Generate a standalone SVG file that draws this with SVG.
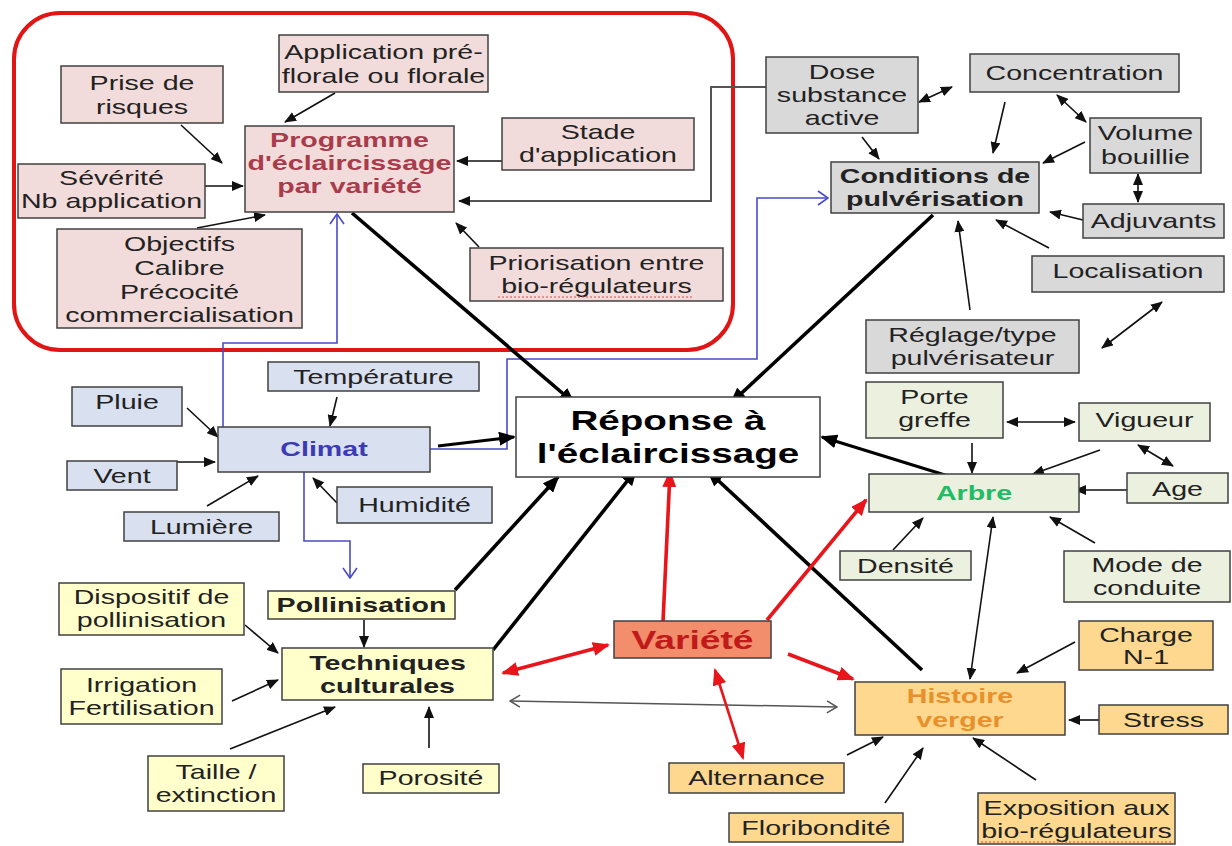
<svg xmlns="http://www.w3.org/2000/svg" width="1232" height="846" viewBox="0 0 1232 846">
<style>
  .box{stroke:#404040;stroke-width:1.5}
  .pk{fill:#f2dcdb}.gy{fill:#d9d9d9}.bl{fill:#d9e0ef}.gr{fill:#ebf1de}.ye{fill:#ffffcc}.or{fill:#fdd88e}
  text{font-family:"Liberation Sans",Arial,sans-serif;font-size:20px;fill:#222;text-anchor:middle}
  .b{font-weight:bold}
  .thin{fill:none;stroke:#111;stroke-width:1.6;marker-end:url(#ah)}
  .dbl{marker-start:url(#ah)}
  .thick{fill:none;stroke:#000;stroke-width:3.6;marker-end:url(#ahK)}
  .red{fill:none;stroke:#e8161b;stroke-width:3.6;marker-end:url(#ahR)}
  .redd{marker-start:url(#ahR)}
  .blue{fill:none;stroke:#4a4ac8;stroke-width:1.6;marker-end:url(#ahB)}
  .spell{fill:none;stroke:#e04848;stroke-width:1;stroke-dasharray:2 2}
</style>
<defs>
  <marker id="ah" viewBox="0 0 12 10" refX="11" refY="5" markerWidth="12" markerHeight="10" markerUnits="userSpaceOnUse" orient="auto-start-reverse"><path d="M0,0 L12,5 L0,10 z" fill="#111"/></marker>
  <marker id="ahK" viewBox="0 0 17 14" refX="15" refY="7" markerWidth="17" markerHeight="14" markerUnits="userSpaceOnUse" orient="auto-start-reverse"><path d="M0,0 L17,7 L0,14 z" fill="#000"/></marker>
  <marker id="ahR" viewBox="0 0 17 14" refX="15" refY="7" markerWidth="17" markerHeight="14" markerUnits="userSpaceOnUse" orient="auto-start-reverse"><path d="M0,0 L17,7 L0,14 z" fill="#e8161b"/></marker>
  <marker id="ahB" viewBox="0 0 12 16" refX="11" refY="8" markerWidth="12" markerHeight="16" markerUnits="userSpaceOnUse" orient="auto-start-reverse"><path d="M1,1 L11,8 L1,15" fill="none" stroke="#4a4ac8" stroke-width="1.6"/></marker>
  <marker id="ahG" viewBox="0 0 12 14" refX="11" refY="7" markerWidth="12" markerHeight="14" markerUnits="userSpaceOnUse" orient="auto-start-reverse"><path d="M1,1 L11,7 L1,13" fill="none" stroke="#555" stroke-width="1.5"/></marker>
</defs>
<rect width="1232" height="846" fill="#ffffff"/>
<rect id="frame" x="14" y="13" width="719" height="337" rx="46" fill="none" stroke="#e01515" stroke-width="4"/>

<g id="connectors">
  <line class="thin" x1="335" y1="93" x2="285" y2="122"/>
  <line class="thin" x1="181" y1="125" x2="222" y2="163"/>
  <line class="thin" x1="205" y1="186" x2="243" y2="186"/>
  <line class="thin" x1="197" y1="228" x2="265" y2="215"/>
  <line class="thin" x1="502" y1="161" x2="457" y2="161"/>
  <polyline class="thin" style="stroke:#555;stroke-width:2" points="766,87 711,87 711,201 459,201"/>
  <line class="thin" x1="479" y1="247" x2="456" y2="223"/>
  <line class="thin dbl" x1="919" y1="102" x2="952" y2="87"/>
  <line class="thin" x1="862" y1="137" x2="879" y2="159"/>
  <line class="thin" x1="1005" y1="102" x2="993" y2="153"/>
  <line class="thin dbl" x1="1057" y1="95" x2="1086" y2="122"/>
  <line class="thin" x1="1085" y1="142" x2="1043" y2="163"/>
  <line class="thin dbl" x1="1138" y1="174" x2="1138" y2="202"/>
  <line class="thin" x1="1083" y1="220" x2="1050" y2="212"/>
  <line class="thin" x1="1049" y1="248" x2="996" y2="220"/>
  <line class="thin" x1="970" y1="310" x2="958" y2="221"/>
  <line class="thin dbl" x1="1162" y1="302" x2="1102" y2="348"/>
  <line class="thin" x1="337" y1="397" x2="330" y2="426"/>
  <line class="thin" x1="187" y1="408" x2="218" y2="437"/>
  <line class="thin" x1="177" y1="462" x2="215" y2="462"/>
  <line class="thin" x1="207" y1="506" x2="258" y2="476"/>
  <line class="thin" x1="337" y1="503" x2="313" y2="478"/>
  <line class="thin dbl" x1="1007" y1="422" x2="1075" y2="422"/>
  <line class="thin" x1="972" y1="443" x2="972" y2="473"/>
  <line class="thin" x1="1100" y1="450" x2="1033" y2="474"/>
  <line class="thin dbl" x1="1138" y1="445" x2="1173" y2="466"/>
  <line class="thin" x1="1127" y1="490" x2="1075" y2="490"/>
  <line class="thin" x1="893" y1="550" x2="923" y2="518"/>
  <line class="thin" x1="1095" y1="543" x2="1050" y2="517"/>
  <line class="thin dbl" x1="993" y1="517" x2="970" y2="679"/>
  <line class="thin" x1="364" y1="620" x2="364" y2="647"/>
  <line class="thin" x1="245" y1="625" x2="278" y2="653"/>
  <line class="thin" x1="232" y1="701" x2="278" y2="680"/>
  <line class="thin" x1="230" y1="749" x2="335" y2="707"/>
  <line class="thin" x1="429" y1="748" x2="429" y2="707"/>
  <line class="thin" x1="1075" y1="642" x2="1017" y2="673"/>
  <line class="thin" x1="1099" y1="720" x2="1069" y2="720"/>
  <line class="thin" x1="1036" y1="780" x2="973" y2="738"/>
  <line class="thin" x1="885" y1="803" x2="923" y2="748"/>
  <line class="thin" x1="847" y1="755" x2="883" y2="737"/>
  <line fill="none" stroke="#555" stroke-width="1.5" marker-start="url(#ahG)" marker-end="url(#ahG)" x1="510" y1="701" x2="837" y2="707"/>

  <polyline class="blue" points="430,449 507,449 507,359 757,359 757,198 828,198"/>
  <polyline class="blue" points="223,427 223,343 337,343 337,214"/>
  <polyline class="blue" points="304,472 304,541 350,541 350,578"/>

  <line class="thick" x1="352" y1="213" x2="574" y2="403"/>
  <line class="thick" x1="933" y1="215" x2="731" y2="403"/>
  <line class="thick" style="stroke-width:3" x1="438" y1="446" x2="514" y2="437"/>
  <line class="thick" x1="455" y1="590" x2="558" y2="477"/>
  <line class="thick" x1="493" y1="650" x2="636" y2="470"/>
  <line class="thick" x1="922" y1="670" x2="708" y2="471"/>
  <line class="thick" style="stroke-width:3" x1="945" y1="475" x2="822" y2="437"/>

  <line class="red" x1="663" y1="622" x2="670" y2="472"/>
  <line class="red" x1="767" y1="620" x2="866" y2="500"/>
  <line class="red" x1="788" y1="654" x2="853" y2="679"/>
  <line class="red redd" x1="608" y1="645" x2="503" y2="673"/>
  <line class="red redd" style="stroke-width:2.6" x1="715" y1="670" x2="743" y2="758"/>
</g>

<g id="n_application"><rect class="box pk" x="279" y="35" width="209" height="57"/>
  <text transform="translate(383.5 0) scale(1.43 1)"><tspan x="0" y="59">Application pré-</tspan><tspan x="0" y="83">florale ou florale</tspan></text></g>
<g id="n_prise"><rect class="box pk" x="61" y="66" width="162" height="57"/>
  <text transform="translate(142 0) scale(1.43 1)"><tspan x="0" y="90">Prise de</tspan><tspan x="0" y="114">risques</tspan></text></g>
<g id="n_programme"><rect class="box pk" x="245" y="126" width="209" height="86"/>
  <text class="b" style="fill:#a83c4c" transform="translate(349.5 0) scale(1.43 1)"><tspan x="0" y="147">Programme</tspan><tspan x="0" y="170">d'éclaircissage</tspan><tspan x="0" y="193">par variété</tspan></text></g>
<g id="n_severite"><rect class="box pk" x="18" y="164" width="187" height="54"/>
  <text transform="translate(111.5 0) scale(1.43 1)"><tspan x="0" y="185">Sévérité</tspan><tspan x="0" y="208">Nb application</tspan></text></g>
<g id="n_objectifs"><rect class="box pk" x="57" y="229" width="245" height="99"/>
  <text transform="translate(179.5 0) scale(1.43 1)"><tspan x="0" y="251">Objectifs</tspan><tspan x="0" y="275">Calibre</tspan><tspan x="0" y="299">Précocité</tspan><tspan x="0" y="322">commercialisation</tspan></text></g>
<g id="n_stade"><rect class="box pk" x="502" y="118" width="192" height="52"/>
  <text transform="translate(598 0) scale(1.43 1)"><tspan x="0" y="139">Stade</tspan><tspan x="0" y="162">d'application</tspan></text></g>
<g id="n_priorisation"><rect class="box pk" x="470" y="248" width="253" height="53"/>
  <text transform="translate(596.5 0) scale(1.43 1)"><tspan x="0" y="270">Priorisation entre</tspan><tspan x="0" y="293">bio-régulateurs</tspan></text>
  <line class="spell" x1="498" y1="297" x2="694" y2="297"/></g>

<g id="n_dose"><rect class="box gy" x="766" y="57" width="152" height="76"/>
  <text transform="translate(842 0) scale(1.43 1)"><tspan x="0" y="79">Dose</tspan><tspan x="0" y="102">substance</tspan><tspan x="0" y="125">active</tspan></text></g>
<g id="n_concentration"><rect class="box gy" x="970" y="54" width="209" height="38"/>
  <text transform="translate(1074.5 0) scale(1.43 1)" x="0" y="80">Concentration</text></g>
<g id="n_volume"><rect class="box gy" x="1090" y="118" width="111" height="55"/>
  <text transform="translate(1145.5 0) scale(1.43 1)"><tspan x="0" y="140">Volume</tspan><tspan x="0" y="164">bouillie</tspan></text></g>
<g id="n_conditions"><rect class="box gy" x="831" y="162" width="208" height="51"/>
  <text class="b" transform="translate(935 0) scale(1.43 1)"><tspan x="0" y="183">Conditions de</tspan><tspan x="0" y="206">pulvérisation</tspan></text></g>
<g id="n_adjuvants"><rect class="box gy" x="1083" y="204" width="141" height="34"/>
  <text transform="translate(1153.5 0) scale(1.43 1)" x="0" y="228">Adjuvants</text></g>
<g id="n_localisation"><rect class="box gy" x="1032" y="256" width="192" height="36"/>
  <text transform="translate(1128 0) scale(1.43 1)" x="0" y="278">Localisation</text></g>
<g id="n_reglage"><rect class="box gy" x="866" y="320" width="213" height="53"/>
  <text transform="translate(972.5 0) scale(1.43 1)"><tspan x="0" y="342">Réglage/type</tspan><tspan x="0" y="365">pulvérisateur</tspan></text></g>

<g id="n_climat"><rect class="box bl" x="218" y="427" width="212" height="45"/>
  <text class="b" style="fill:#3b3bb5" transform="translate(324 0) scale(1.43 1)" x="0" y="456">Climat</text></g>
<g id="n_temperature"><rect class="box bl" x="268" y="362" width="211" height="29"/>
  <text transform="translate(373.5 0) scale(1.43 1)" x="0" y="384">Température</text></g>
<g id="n_pluie"><rect class="box bl" x="72" y="387" width="110" height="39"/>
  <text transform="translate(127 0) scale(1.43 1)" x="0" y="409">Pluie</text></g>
<g id="n_vent"><rect class="box bl" x="67" y="461" width="110" height="29"/>
  <text transform="translate(122 0) scale(1.43 1)" x="0" y="483">Vent</text></g>
<g id="n_lumiere"><rect class="box bl" x="124" y="512" width="155" height="29"/>
  <text transform="translate(201.5 0) scale(1.43 1)" x="0" y="534">Lumière</text></g>
<g id="n_humidite"><rect class="box bl" x="337" y="487" width="155" height="36"/>
  <text transform="translate(414.5 0) scale(1.43 1)" x="0" y="512">Humidité</text></g>

<g id="n_reponse"><rect class="box" fill="#ffffff" x="516" y="397" width="304" height="80"/>
  <text class="b" style="font-size:27px;fill:#000" transform="translate(668 0) scale(1.43 1)"><tspan x="0" y="430">Réponse à</tspan><tspan x="0" y="463">l'éclaircissage</tspan></text></g>

<g id="n_porte"><rect class="box gr" x="866" y="382" width="137" height="56"/>
  <text transform="translate(934.5 0) scale(1.43 1)"><tspan x="0" y="404">Porte</tspan><tspan x="0" y="427">greffe</tspan></text></g>
<g id="n_vigueur"><rect class="box gr" x="1079" y="403" width="131" height="38"/>
  <text transform="translate(1144.5 0) scale(1.43 1)" x="0" y="427">Vigueur</text></g>
<g id="n_arbre"><rect class="box gr" x="869" y="474" width="210" height="38"/>
  <text class="b" style="fill:#22bb66" transform="translate(974 0) scale(1.43 1)" x="0" y="500">Arbre</text></g>
<g id="n_age"><rect class="box gr" x="1127" y="473" width="101" height="30"/>
  <text transform="translate(1177.5 0) scale(1.43 1)" x="0" y="496">Age</text></g>
<g id="n_densite"><rect class="box gr" x="840" y="551" width="131" height="29"/>
  <text transform="translate(905.5 0) scale(1.43 1)" x="0" y="573">Densité</text></g>
<g id="n_mode"><rect class="box gr" x="1064" y="551" width="166" height="51"/>
  <text transform="translate(1147 0) scale(1.43 1)"><tspan x="0" y="572">Mode de</tspan><tspan x="0" y="595">conduite</tspan></text></g>

<g id="n_pollinisation"><rect class="box ye" x="268" y="591" width="187" height="28"/>
  <text class="b" transform="translate(361.5 0) scale(1.43 1)" x="0" y="612">Pollinisation</text></g>
<g id="n_dispositif"><rect class="box ye" x="59" y="583" width="185" height="52"/>
  <text transform="translate(151.5 0) scale(1.43 1)"><tspan x="0" y="604">Dispositif de</tspan><tspan x="0" y="627">pollinisation</tspan></text></g>
<g id="n_techniques"><rect class="box ye" x="282" y="648" width="211" height="52"/>
  <text class="b" transform="translate(387.5 0) scale(1.43 1)"><tspan x="0" y="670">Techniques</tspan><tspan x="0" y="693">culturales</tspan></text></g>
<g id="n_irrigation"><rect class="box ye" x="61" y="669" width="161" height="55"/>
  <text transform="translate(141.5 0) scale(1.43 1)"><tspan x="0" y="692">Irrigation</tspan><tspan x="0" y="715">Fertilisation</tspan></text></g>
<g id="n_taille"><rect class="box ye" x="148" y="756" width="136" height="55"/>
  <text transform="translate(216 0) scale(1.43 1)"><tspan x="0" y="779">Taille /</tspan><tspan x="0" y="802">extinction</tspan></text></g>
<g id="n_porosite"><rect class="box ye" x="363" y="764" width="136" height="29"/>
  <text transform="translate(431 0) scale(1.43 1)" x="0" y="785">Porosité</text></g>

<g id="n_variete"><rect class="box" fill="#f28e6b" x="614" y="621" width="157" height="37"/>
  <text class="b" style="font-size:26px;fill:#c01a1a" transform="translate(692.5 0) scale(1.43 1)" x="0" y="649">Variété</text></g>
<g id="n_histoire"><rect class="box or" x="855" y="682" width="210" height="53"/>
  <text class="b" style="fill:#e8902c" transform="translate(960 0) scale(1.43 1)"><tspan x="0" y="703">Histoire</tspan><tspan x="0" y="727">verger</tspan></text></g>
<g id="n_charge"><rect class="box or" x="1079" y="621" width="134" height="49"/>
  <text transform="translate(1146 0) scale(1.43 1)"><tspan x="0" y="642">Charge</tspan><tspan x="0" y="664">N-1</tspan></text></g>
<g id="n_stress"><rect class="box or" x="1099" y="705" width="129" height="29"/>
  <text transform="translate(1163.5 0) scale(1.43 1)" x="0" y="727">Stress</text></g>
<g id="n_exposition"><rect class="box or" x="978" y="793" width="197" height="51"/>
  <text transform="translate(1076.5 0) scale(1.43 1)"><tspan x="0" y="815">Exposition aux</tspan><tspan x="0" y="838">bio-régulateurs</tspan></text>
  <line class="spell" x1="981" y1="842" x2="1172" y2="842"/></g>
<g id="n_floribondite"><rect class="box or" x="729" y="813" width="174" height="29"/>
  <text transform="translate(816 0) scale(1.43 1)" x="0" y="835">Floribondité</text></g>
<g id="n_alternance"><rect class="box or" x="669" y="763" width="175" height="30"/>
  <text transform="translate(756.5 0) scale(1.43 1)" x="0" y="785">Alternance</text></g>
</svg>
